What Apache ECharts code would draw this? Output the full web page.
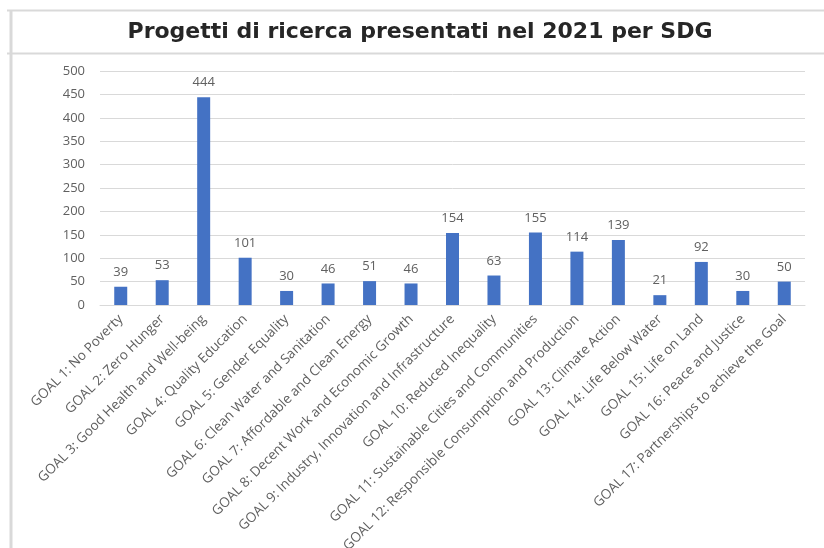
<!DOCTYPE html>
<html>
<head>
<meta charset="utf-8">
<script src="https://cdn.jsdelivr.net/npm/echarts@6/dist/echarts.min.js"></script>
<style>
  html, body { margin: 0; padding: 0; background: #fff; }
  #main { width: 824px; height: 548px; }
</style>
</head>
<body>
<div id="main"></div>
<script>
// dati
var goals = [
  'GOAL 1: No Poverty',
  'GOAL 2: Zero Hunger',
  'GOAL 3: Good Health and Well-being',
  'GOAL 4: Quality Education',
  'GOAL 5: Gender Equality',
  'GOAL 6: Clean Water and Sanitation',
  'GOAL 7: Affordable and Clean Energy',
  'GOAL 8: Decent Work and Economic Growth',
  'GOAL 9: Industry, Innovation and Infrastructure',
  'GOAL 10: Reduced Inequality',
  'GOAL 11: Sustainable Cities and Communities',
  'GOAL 12: Responsible Consumption and Production',
  'GOAL 13: Climate Action',
  'GOAL 14: Life Below Water',
  'GOAL 15: Life on Land',
  'GOAL 16: Peace and Justice',
  'GOAL 17: Partnerships to achieve the Goal'
];
var progetti = [39, 53, 444, 101, 30, 46, 51, 46, 154, 63, 155, 114, 139, 21, 92, 30, 50];
var yTicks = [0, 50, 100, 150, 200, 250, 300, 350, 400, 450, 500];

var myChart = echarts.init(document.getElementById('main'));

var option = {
    backgroundColor: '#ffffff',
    animation: false,
    title: {
        text: 'Progetti di ricerca presentati nel 2021 per SDG',
        left: 415,
        top: 16,
        textAlign: 'center',
        textStyle: {
            fontFamily: 'DejaVu Sans',
            fontWeight: 'bold',
            fontSize: 22,
            color: '#262626'
        }
    },
    graphic: [
        // cornice
        { type: 'line', shape: { x1: 7, y1: 10.5, x2: 824, y2: 10.5 }, style: { stroke: '#d9d9d9', lineWidth: 2 } },
        { type: 'line', shape: { x1: 7, y1: 53.5, x2: 824, y2: 53.5 }, style: { stroke: '#d9d9d9', lineWidth: 2 } },
        { type: 'line', shape: { x1: 11, y1: 10, x2: 11, y2: 548 }, style: { stroke: '#d9d9d9', lineWidth: 3 } }
    ],
    grid: {
        left: 100,
        right: 19,
        top: 71,
        height: 234,
        containLabel: false,
        outerBoundsMode: 'none'
    },
    xAxis: {
        type: 'category',
        data: goals,
        axisLine: { lineStyle: { color: '#d9d9d9', width: 1 } },
        axisTick: { show: false },
        axisLabel: {
            interval: 0,
            rotate: 45,
            margin: 12,
            color: '#606060',
            fontFamily: 'Open Sans',
            fontSize: 13.5
        }
    },
    yAxis: {
        type: 'value',
        min: yTicks[0],
        max: yTicks[yTicks.length - 1],
        interval: 50,
        axisLine: { show: false },
        axisTick: { show: false },
        splitLine: { lineStyle: { color: '#d9d9d9', width: 1 } },
        axisLabel: {
            margin: 15,
            color: '#606060',
            fontFamily: 'Open Sans',
            fontSize: 13
        }
    },
    series: [
        {
            name: 'Progetti',
            type: 'bar',
            data: progetti,
            barWidth: 13,
            itemStyle: { color: '#4472c4' },
            label: {
                show: true,
                position: 'top',
                distance: 8,
                color: '#606060',
                fontFamily: 'Open Sans',
                fontSize: 13
            }
        }
    ]
};
myChart.setOption(option);
</script>
</body>
</html>
